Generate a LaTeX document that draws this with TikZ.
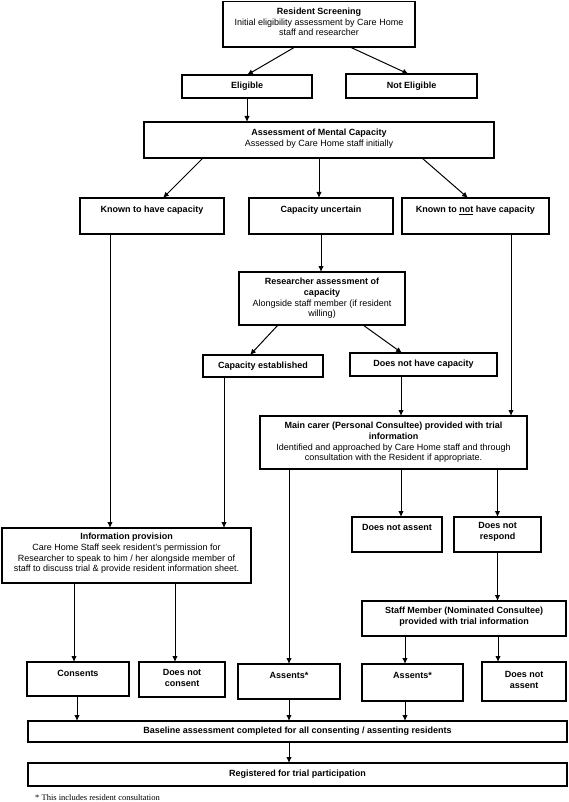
\documentclass[tikz,border=0pt]{standalone}
\usepackage{fontspec}
\setmainfont{Liberation Sans}
\newfontfamily\notefont{Liberation Serif}
\usetikzlibrary{arrows.meta}
\tikzset{
  box/.style={draw, line width=1.1pt, inner sep=0pt, outer sep=0pt},
  txt/.style={align=center, inner sep=0pt, font=\fontsize{9}{10.7}\selectfont},
  arr/.style={line width=1pt, -{Latex[length=6pt,width=5.5pt]}},
}
\newcommand{\bx}[5]{%
  \node[box, minimum width={(#4-#2)*1pt}, minimum height={(#5-#3)*1pt}] (#1) at ({(#2+#4)/2},{-(#3+#5)/2}) {};}
\begin{document}
\begin{tikzpicture}[x=1pt,y=1pt]
\useasboundingbox (0,0) rectangle (568,-802);
% boxes
\bx{rs}{223}{1.5}{415}{47}
\node[txt] (rs-t) at (319,-22) {\textbf{Resident Screening}\\Initial eligibility assessment by Care Home\\staff and researcher};
\bx{el}{182}{75}{312}{98}
\node[txt] (el-t) at (247,-86.5) {\textbf{Eligible}};
\bx{ne}{346}{74}{477}{98}
\node[txt] (ne-t) at (411.5,-86) {\textbf{Not Eligible}};
\bx{am}{144}{122}{494}{158}
\node[txt] (am-t) at (319,-139) {\textbf{Assessment of Mental Capacity}\\Assessed by Care Home staff initially};
\bx{kh}{80}{198}{224}{234}
\node[txt] (kh-t) at (152,-210) {\textbf{Known to have capacity}};
\bx{cu}{249}{198}{393}{234}
\node[txt] (cu-t) at (321,-210) {\textbf{Capacity uncertain}};
\bx{kn}{402}{198}{549}{234}
\node[txt] (kn-t) at (475.5,-210) {\textbf{Known to \underline{not} have capacity}};
\bx{ra}{239}{272}{405}{325}
\node[txt] (ra-t) at (322,-298.5) {\textbf{Researcher assessment of}\\\textbf{capacity}\\Alongside staff member (if resident\\willing)};
\bx{ce}{203}{355}{323}{377}
\node[txt] (ce-t) at (263,-366) {\textbf{Capacity established}};
\bx{dn}{350}{353}{497}{376}
\node[txt] (dn-t) at (423.5,-364.5) {\textbf{Does not have capacity}};
\bx{mc}{260}{416}{527}{469}
\node[txt] (mc-t) at (393.5,-442.5) {\textbf{Main carer (Personal Consultee) provided with trial}\\\textbf{information}\\Identified and approached by Care Home staff and through\\consultation with the Resident if appropriate.};
\bx{dna1}{352}{517}{442}{552}
\node[txt] (dna1-t) at (397,-527.5) {\textbf{Does not assent}};
\bx{dnr}{454}{517}{541}{552}
\node[txt] (dnr-t) at (497.5,-532) {\textbf{Does not}\\\textbf{respond}};
\bx{sm}{362}{601}{566}{636}
\node[txt] (sm-t) at (464,-616.5) {\textbf{Staff Member (Nominated Consultee)}\\\textbf{provided with trial information}};
\bx{ip}{2}{528}{251}{583}
\node[txt] (ip-t) at (126.5,-553.5) {\textbf{Information provision}\\Care Home Staff seek resident’s permission for\\Researcher to speak to him / her alongside member of\\staff to discuss trial \& provide resident information sheet.};
\bx{co}{27}{662}{129}{696}
\node[txt] (co-t) at (78,-673) {\textbf{Consents}};
\bx{dnc}{139}{662}{225}{697}
\node[txt] (dnc-t) at (182,-678) {\textbf{Does not}\\\textbf{consent}};
\bx{as1}{238}{664}{340}{699}
\node[txt] (as1-t) at (289,-675) {\textbf{Assents*}};
\bx{as2}{362}{664}{463}{701}
\node[txt] (as2-t) at (412.5,-675) {\textbf{Assents*}};
\bx{dna2}{482}{662}{566}{701}
\node[txt] (dna2-t) at (524,-680) {\textbf{Does not}\\\textbf{assent}};
\bx{bl}{28}{721}{567}{742}
\node[txt] (bl-t) at (297.5,-731.5) {\textbf{Baseline assessment completed for all consenting / assenting residents}};
\bx{rg}{28}{763}{567}{786}
\node[txt] (rg-t) at (297.5,-774.5) {\textbf{Registered for trial participation}};
\node[anchor=west, inner sep=0pt, font=\notefont\fontsize{8.5}{10}\selectfont] (fn) at (35,-798) {* This includes resident consultation};
% connectors
\draw[arr] ([xshift=-24pt]rs.south) -- (el.north);
\draw[arr] ([xshift=31pt]rs.south) -- ([xshift=-3pt]ne.north);
\draw[arr] (el.south) -- (el.south |- am.north);
\draw[arr] ([xshift=-116pt]am.south) -- ([xshift=11pt]kh.north);
\draw[arr] (am.south) -- (am.south |- cu.north);
\draw[arr] ([xshift=103pt]am.south) -- ([xshift=-7.5pt]kn.north);
\draw[arr] ([xshift=-42pt]kh.south) -- ([xshift=-16.5pt]ip.north);
\draw[arr] (cu.south) -- (cu.south |- ra.north);
\draw[arr] ([xshift=35.5pt]kn.south) -- ([xshift=117.5pt]mc.north);
\draw[arr] ([xshift=-44pt]ra.south) -- ([xshift=-13pt]ce.north);
\draw[arr] ([xshift=41pt]ra.south) -- ([xshift=-21.5pt]dn.north);
\draw[arr] ([xshift=-39pt]ce.south) -- ([xshift=97.5pt]ip.north);
\draw[arr] ([xshift=-22.5pt]dn.south) -- ([xshift=7.5pt]mc.north);
\draw[arr] ([xshift=-104.5pt]mc.south) -- (as1.north);
\draw[arr] ([xshift=7.5pt]mc.south) -- ([xshift=4pt]dna1.north);
\draw[arr] ([xshift=104pt]mc.south) -- (dnr.north);
\draw[arr] (dnr.south) -- ([xshift=33.5pt]sm.north);
\draw[arr] ([xshift=-59pt]sm.south) -- ([xshift=-7.5pt]as2.north);
\draw[arr] ([xshift=34pt]sm.south) -- ([xshift=-26pt]dna2.north);
\draw[arr] ([xshift=-52.5pt]ip.south) -- ([xshift=-4pt]co.north);
\draw[arr] ([xshift=48.5pt]ip.south) -- ([xshift=-7pt]dnc.north);
\draw[arr] ([xshift=-1pt]co.south) -- ([xshift=-220.5pt]bl.north);
\draw[arr] (as1.south) -- ([xshift=-8.5pt]bl.north);
\draw[arr] ([xshift=-7.5pt]as2.south) -- ([xshift=107.5pt]bl.north);
\draw[arr] ([xshift=-8.5pt]bl.south) -- ([xshift=-8.5pt]rg.north);
\end{tikzpicture}
\end{document}
